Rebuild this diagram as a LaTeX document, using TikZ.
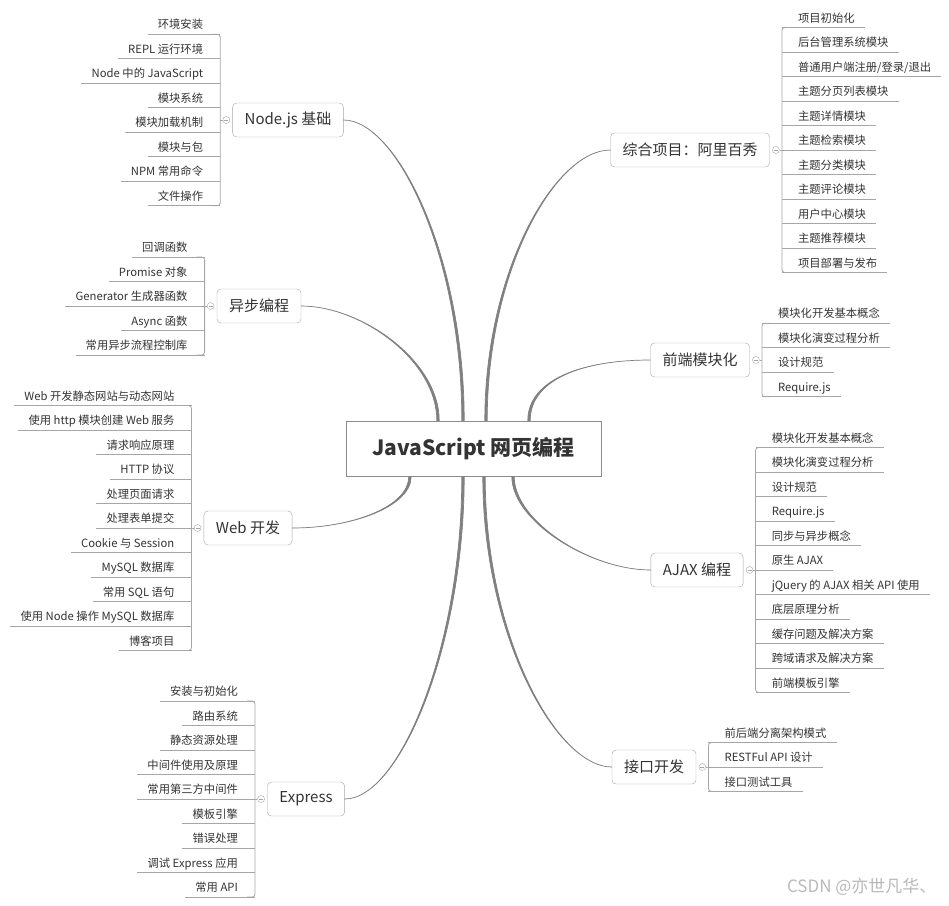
\documentclass[tikz,border=0pt]{standalone}
\usepackage{fontspec}
\setmainfont{Noto Sans CJK SC}
\usepackage{xcolor}
\usepackage{tikz}
\usetikzlibrary{positioning, calc}

\definecolor{textgray}{HTML}{333333}
\definecolor{linegray}{HTML}{A6A6A6}
\definecolor{curvegray}{HTML}{808080}
\definecolor{rootgray}{HTML}{8C8C8C}

\begin{document}
\begin{tikzpicture}[
 x=1pt, y=-1pt,
 rootbox/.style={rectangle, draw=rootgray, line width=1pt, fill=white, text=textgray,
   minimum width=255pt, minimum height=55pt, font=\fontsize{21}{25}\selectfont\bfseries},
 topic/.style={rectangle, rounded corners=4pt, draw=linegray, fill=white, text=textgray,
   minimum height=34pt, inner xsep=12pt, font=\fontsize{15}{18}\selectfont},
 fold/.style={circle, draw=linegray, fill=white, minimum size=7pt, inner sep=0pt,
   path picture={\draw[linegray] ([xshift=-2pt]path picture bounding box.center)
     -- ([xshift=2pt]path picture bounding box.center);}},
 leaf/.style={inner sep=0pt, text=textgray, font=\fontsize{11.3}{13}\selectfont},
 twig/.style={draw=linegray, line width=0.8pt},
 limb/.style={fill=curvegray, draw=curvegray, line width=0.7pt, line join=round}
]
\useasboundingbox (0,0) rectangle (949,905);

\node[rootbox] (js) at (473.5,448.5) {JavaScript 网页编程};

% left side
\node[topic] (nodejs) at (288,120) {Node.js 基础};
\node[fold, left=2.5pt of nodejs] (nodejs-fold) {};
\foreach \t [count=\i] in {环境安装, REPL 运行环境, Node 中的 JavaScript, 模块系统,
  模块加载机制, 模块与包, NPM 常用命令, 文件操作} {
  \coordinate (nodejs-u\i) at ($(nodejs-fold)+(-6,{(\i-4.5)*24.5})$);
  \node[leaf, anchor=base east] (nodejs-\i) at ($(nodejs-u\i)+(-17,-5.5)$) {\t};
  \draw[twig] ($(nodejs-\i.base west)+(-10,5.5)$) -- (nodejs-u\i);
}
\draw[twig, rounded corners=3pt] ($(nodejs-u1)+(-8,0)$) -- (nodejs-u1) -- (nodejs-u8) -- ($(nodejs-u8)+(-8,0)$);
\draw[twig] (nodejs-fold.west) -- (nodejs-fold.west -| nodejs-u1);

\node[topic] (async) at (259,306) {异步编程};
\node[fold, left=2.5pt of async] (async-fold) {};
\foreach \t [count=\i] in {回调函数, Promise 对象, Generator 生成器函数, Async 函数,
  常用异步流程控制库} {
  \coordinate (async-u\i) at ($(async-fold)+(-6,{(\i-3)*24.5})$);
  \node[leaf, anchor=base east] (async-\i) at ($(async-u\i)+(-17,-5.5)$) {\t};
  \draw[twig] ($(async-\i.base west)+(-10,5.5)$) -- (async-u\i);
}
\draw[twig, rounded corners=3pt] ($(async-u1)+(-8,0)$) -- (async-u1) -- (async-u5) -- ($(async-u5)+(-8,0)$);
\draw[twig] (async-fold.west) -- (async-fold.west -| async-u1);

\node[topic] (web) at (248,528) {Web 开发};
\node[fold, left=2.5pt of web] (web-fold) {};
\foreach \t [count=\i] in {Web 开发静态网站与动态网站, 使用 http 模块创建 Web 服务,
  请求响应原理, HTTP 协议, 处理页面请求, 处理表单提交, Cookie 与 Session, MySQL 数据库,
  常用 SQL 语句, 使用 Node 操作 MySQL 数据库, 博客项目} {
  \coordinate (web-u\i) at ($(web-fold)+(-6,{(\i-6)*24.5})$);
  \node[leaf, anchor=base east] (web-\i) at ($(web-u\i)+(-17,-5.5)$) {\t};
  \draw[twig] ($(web-\i.base west)+(-10,5.5)$) -- (web-u\i);
}
\draw[twig, rounded corners=3pt] ($(web-u1)+(-8,0)$) -- (web-u1) -- (web-u11) -- ($(web-u11)+(-8,0)$);
\draw[twig] (web-fold.west) -- (web-fold.west -| web-u1);

\node[topic] (express) at (306,799) {Express};
\node[fold, left=2.5pt of express] (express-fold) {};
\foreach \t [count=\i] in {安装与初始化, 路由系统, 静态资源处理, 中间件使用及原理,
  常用第三方中间件, 模板引擎, 错误处理, 调试 Express 应用, 常用 API} {
  \coordinate (express-u\i) at ($(express-fold)+(-6,{(\i-5)*24.5})$);
  \node[leaf, anchor=base east] (express-\i) at ($(express-u\i)+(-17,-5.5)$) {\t};
  \draw[twig] ($(express-\i.base west)+(-10,5.5)$) -- (express-u\i);
}
\draw[twig, rounded corners=3pt] ($(express-u1)+(-8,0)$) -- (express-u1) -- (express-u9) -- ($(express-u9)+(-8,0)$);
\draw[twig] (express-fold.west) -- (express-fold.west -| express-u1);

% right side
\node[topic] (project) at (690,150) {综合项目：阿里百秀};
\node[fold, right=2.5pt of project] (project-fold) {};
\foreach \t [count=\i] in {项目初始化, 后台管理系统模块, {普通用户端注册/登录/退出},
  主题分页列表模块, 主题详情模块, 主题检索模块, 主题分类模块, 主题评论模块,
  用户中心模块, 主题推荐模块, 项目部署与发布} {
  \coordinate (project-u\i) at ($(project-fold)+(6,{(\i-6)*24.5})$);
  \node[leaf, anchor=base west] (project-\i) at ($(project-u\i)+(16,-5.5)$) {\t};
  \draw[twig] ($(project-\i.base east)+(10,5.5)$) -- (project-u\i);
}
\draw[twig, rounded corners=3pt] ($(project-u1)+(8,0)$) -- (project-u1) -- (project-u11) -- ($(project-u11)+(8,0)$);
\draw[twig] (project-fold.east) -- (project-fold.east -| project-u1);

\node[topic] (module) at (700,360) {前端模块化};
\node[fold, right=2.5pt of module] (module-fold) {};
\foreach \t [count=\i] in {模块化开发基本概念, 模块化演变过程分析, 设计规范, Require.js} {
  \coordinate (module-u\i) at ($(module-fold)+(6,{(\i-2.5)*24.5})$);
  \node[leaf, anchor=base west] (module-\i) at ($(module-u\i)+(16,-5.5)$) {\t};
  \draw[twig] ($(module-\i.base east)+(10,5.5)$) -- (module-u\i);
}
\draw[twig, rounded corners=3pt] ($(module-u1)+(8,0)$) -- (module-u1) -- (module-u4) -- ($(module-u4)+(8,0)$);
\draw[twig] (module-fold.east) -- (module-fold.east -| module-u1);

\node[topic] (ajax) at (697,570) {AJAX 编程};
\node[fold, right=2.5pt of ajax] (ajax-fold) {};
\foreach \t [count=\i] in {模块化开发基本概念, 模块化演变过程分析, 设计规范, Require.js,
  同步与异步概念, 原生 AJAX, jQuery 的 AJAX 相关 API 使用, 底层原理分析,
  缓存问题及解决方案, 跨域请求及解决方案, 前端模板引擎} {
  \coordinate (ajax-u\i) at ($(ajax-fold)+(6,{(\i-6)*24.5})$);
  \node[leaf, anchor=base west] (ajax-\i) at ($(ajax-u\i)+(16,-5.5)$) {\t};
  \draw[twig] ($(ajax-\i.base east)+(10,5.5)$) -- (ajax-u\i);
}
\draw[twig, rounded corners=3pt] ($(ajax-u1)+(8,0)$) -- (ajax-u1) -- (ajax-u11) -- ($(ajax-u11)+(8,0)$);
\draw[twig] (ajax-fold.east) -- (ajax-fold.east -| ajax-u1);

\node[topic] (api) at (654,767) {接口开发};
\node[fold, right=2.5pt of api] (api-fold) {};
\foreach \t [count=\i] in {前后端分离架构模式, RESTFul API 设计, 接口测试工具} {
  \coordinate (api-u\i) at ($(api-fold)+(6,{(\i-2)*24.5})$);
  \node[leaf, anchor=base west] (api-\i) at ($(api-u\i)+(16,-5.5)$) {\t};
  \draw[twig] ($(api-\i.base east)+(10,5.5)$) -- (api-u\i);
}
\draw[twig, rounded corners=3pt] ($(api-u1)+(8,0)$) -- (api-u1) -- (api-u3) -- ($(api-u3)+(8,0)$);
\draw[twig] (api-fold.east) -- (api-fold.east -| api-u1);

% branches into the centre, thin at the topic and wide at the root
\filldraw[limb] (nodejs.east) .. controls +(53,0) and +(0,-165) .. ([xshift=-11.7pt]js.north)
  -- ([xshift=-9.3pt]js.north) .. controls +(0,-165) and +(53,0) .. (nodejs.east) -- cycle;
\filldraw[limb] (async.east) .. controls +(60,0) and +(0,-60) .. ([xshift=-36.7pt]js.north)
  -- ([xshift=-34.3pt]js.north) .. controls +(0,-60) and +(60,0) .. (async.east) -- cycle;
\filldraw[limb] (project.west) .. controls +(-55,0) and +(0,-150) .. ([xshift=13.7pt]js.north)
  -- ([xshift=11.3pt]js.north) .. controls +(0,-150) and +(-55,0) .. (project.west) -- cycle;
\filldraw[limb] (module.west) .. controls +(-70,0) and +(0,-40) .. ([xshift=56.7pt]js.north)
  -- ([xshift=54.3pt]js.north) .. controls +(0,-40) and +(-70,0) .. (module.west) -- cycle;
\filldraw[limb] (web.east) .. controls +(60,0) and +(0,30) .. ([xshift=-64.7pt]js.south)
  -- ([xshift=-62.3pt]js.south) .. controls +(0,30) and +(60,0) .. (web.east) -- cycle;
\filldraw[limb] (express.east) .. controls +(55,0) and +(0,170) .. ([xshift=-11.7pt]js.south)
  -- ([xshift=-9.3pt]js.south) .. controls +(0,170) and +(55,0) .. (express.east) -- cycle;
\filldraw[limb] (api.west) .. controls +(-55,0) and +(0,160) .. ([xshift=11.7pt]js.south)
  -- ([xshift=9.3pt]js.south) .. controls +(0,160) and +(-55,0) .. (api.west) -- cycle;
\filldraw[limb] (ajax.west) .. controls +(-60,0) and +(0,45) .. ([xshift=40.7pt]js.south)
  -- ([xshift=38.3pt]js.south) .. controls +(0,45) and +(-60,0) .. (ajax.west) -- cycle;

\node[anchor=east, text=gray!55, font=\fontsize{17}{20}\selectfont] (watermark) at (940,887) {CSDN @亦世凡华、};
\end{tikzpicture}
\end{document}
